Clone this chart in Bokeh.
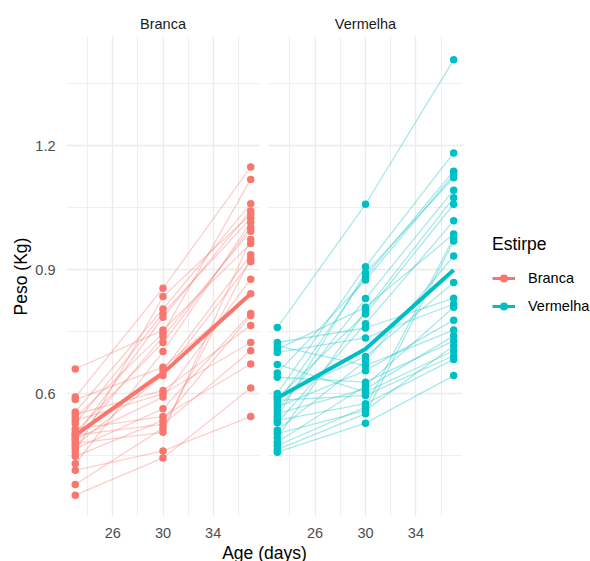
import numpy as np
from bokeh.plotting import figure
from bokeh.layouts import row, column
from bokeh.models import Range1d, FixedTicker, Legend, LegendItem, Label
from bokeh.embed import file_html
from bokeh.resources import INLINE

# ---------------- data ----------------
ages = [23, 30, 37]
groups = ["Branca", "Vermelha"]
colors = ["#F8766D", "#00BFC4"]
x_ticks = [26, 30, 34]
x_minor = [24, 28, 32, 36]
y_ticks = [0.6, 0.9, 1.2]
y_minor = [0.45, 0.75, 1.05, 1.35]

branca_w23 = [0.660, 0.592, 0.586, 0.556, 0.550, 0.542, 0.536, 0.528, 0.515, 0.507, 0.502, 0.500,
              0.496, 0.490, 0.487, 0.480, 0.475, 0.467, 0.459, 0.449, 0.431, 0.415, 0.381, 0.355]
branca_w30 = [0.754, 0.855, 0.664, 0.805, 0.608, 0.746, 0.600, 0.794, 0.545, 0.724, 0.656, 0.526,
              0.785, 0.592, 0.738, 0.507, 0.644, 0.564, 0.835, 0.536, 0.702, 0.462, 0.517, 0.445]
branca_w37 = [0.963, 1.148, 0.842, 1.059, 0.765, 1.118, 0.724, 1.024, 0.672, 1.002, 0.936, 0.704,
              1.042, 0.877, 0.993, 0.973, 0.919, 0.794, 1.034, 0.789, 1.014, 0.545, 0.927, 0.614]
branca_mean = [0.500, 0.650, 0.842]

vermelha_w23 = [0.760, 0.724, 0.716, 0.708, 0.700, 0.671, 0.650, 0.640, 0.601, 0.594, 0.590, 0.584, 0.576,
                0.568, 0.560, 0.552, 0.544, 0.536, 0.530, 0.512, 0.504, 0.494, 0.483, 0.475, 0.465, 0.459]
vermelha_w30 = [1.058, 0.759, 0.668, 0.809, 0.735, 0.604, 0.875, 0.628, 0.907, 0.690, 0.793, 0.596, 0.883,
                0.656, 0.830, 0.612, 0.892, 0.576, 0.769, 0.679, 0.560, 0.801, 0.620, 0.568, 0.552, 0.529]
vermelha_w37 = [1.407, 0.831, 0.754, 0.986, 0.817, 0.704, 1.130, 0.728, 1.182, 0.869, 1.058, 0.692, 1.138,
                0.778, 1.092, 0.740, 1.122, 0.683, 1.018, 0.933, 0.716, 1.074, 0.809, 0.977, 0.969, 0.644]
vermelha_mean = [0.590, 0.708, 0.899]

FONT = "Liberation Sans"
GRID = "#EBEBEB"
ROW_H = 541


def make_panel(name, color, w23, w30, w37, mean, first):
    p = figure(width=263 if first else 199, height=ROW_H,
               x_range=Range1d(22.3, 37.7), y_range=Range1d(0.3035, 1.4634),
               output_backend="svg", toolbar_location=None,
               y_axis_location="left" if first else None,
               min_border_left=66 if first else 5, min_border_right=4 if first else 0,
               min_border_top=36, min_border_bottom=25, title=name)
    p.outline_line_color = None
    p.title.align = "center"
    p.title.text_font = FONT
    p.title.text_font_size = "14.5px"
    p.title.text_font_style = "normal"
    p.title.text_color = "#1A1A1A"
    p.title.standoff = 9

    xs = [ages for _ in w23]
    ys = [[a, b, c] for a, b, c in zip(w23, w30, w37)]
    p.multi_line(xs, ys, line_color=color, line_alpha=0.35, line_width=1.3)
    px = [ages[0]] * len(w23) + [ages[1]] * len(w30) + [ages[2]] * len(w37)
    py = list(w23) + list(w30) + list(w37)
    p.scatter(px, py, size=7.5, fill_color=color, line_color=None)
    p.line(ages, mean, line_color=color, line_width=4)

    for g, t, m in ((p.xgrid, x_ticks, x_minor), (p.ygrid, y_ticks, y_minor)):
        g.ticker = FixedTicker(ticks=t, minor_ticks=m)
        g.grid_line_color = GRID
        g.grid_line_width = 1.3
        g.minor_grid_line_color = GRID
        g.minor_grid_line_width = 0.8

    axes = list(p.xaxis) + (list(p.yaxis) if first else [])
    for ax in axes:
        ax.axis_line_color = None
        ax.major_tick_line_color = None
        ax.minor_tick_line_color = None
        ax.major_label_text_font = FONT
        ax.major_label_text_font_size = "14.5px"
        ax.major_label_text_color = "#4D4D4D"
    p.xaxis.ticker = FixedTicker(ticks=x_ticks, minor_ticks=x_minor)
    p.xaxis.major_label_standoff = 5
    if first:
        p.yaxis.ticker = FixedTicker(ticks=y_ticks, minor_ticks=y_minor)
        p.yaxis.major_label_standoff = 5
        p.yaxis.axis_label = "Peso (Kg)"
        p.yaxis.axis_label_text_font = FONT
        p.yaxis.axis_label_text_font_size = "17.5px"
        p.yaxis.axis_label_text_font_style = "normal"
        p.yaxis.axis_label_text_color = "black"
        p.yaxis.axis_label_standoff = 1
    return p


p1 = make_panel(groups[0], colors[0], branca_w23, branca_w30, branca_w37, branca_mean, True)
p2 = make_panel(groups[1], colors[1], vermelha_w23, vermelha_w30, vermelha_w37, vermelha_mean, False)

# legend panel
p3 = figure(width=128, height=ROW_H, x_range=Range1d(0, 1), y_range=Range1d(0, 1),
            output_backend="svg", toolbar_location=None,
            x_axis_location=None, y_axis_location=None, min_border=0)
p3.outline_line_color = None
p3.xgrid.visible = False
p3.ygrid.visible = False
items = []
for g, c in zip(groups, colors):
    lr = p3.line([np.nan], [np.nan], line_color=c, line_width=3)
    sr = p3.scatter([np.nan], [np.nan], size=7.5, fill_color=c, line_color=None)
    items.append(LegendItem(label=g, renderers=[lr, sr]))
legend = Legend(items=items, title="Estirpe", location=(30, 200),
                padding=0, margin=0, spacing=8,
                glyph_width=23, glyph_height=20, label_height=20, label_standoff=13,
                label_text_font=FONT, label_text_font_size="14.5px", label_text_color="black",
                title_text_font=FONT, title_text_font_size="17.5px", title_text_font_style="normal",
                title_text_color="black", title_standoff=13,
                background_fill_alpha=0, border_line_color=None)
p3.add_layout(legend)

# x axis title
p4 = figure(width=590, height=561 - ROW_H, x_range=Range1d(0, 1), y_range=Range1d(0, 1),
            output_backend="svg", toolbar_location=None,
            x_axis_location=None, y_axis_location=None, min_border=0)
p4.outline_line_color = None
p4.xgrid.visible = False
p4.ygrid.visible = False
p4.add_layout(Label(x=264, y=9, x_units="screen", y_units="screen", text="Age (days)",
                    text_align="center", text_baseline="middle", text_font=FONT,
                    text_font_size="17.5px", text_color="black"))

layout = column(row(p1, p2, p3), p4)
open("out.html", "w").write(file_html(layout, INLINE))
